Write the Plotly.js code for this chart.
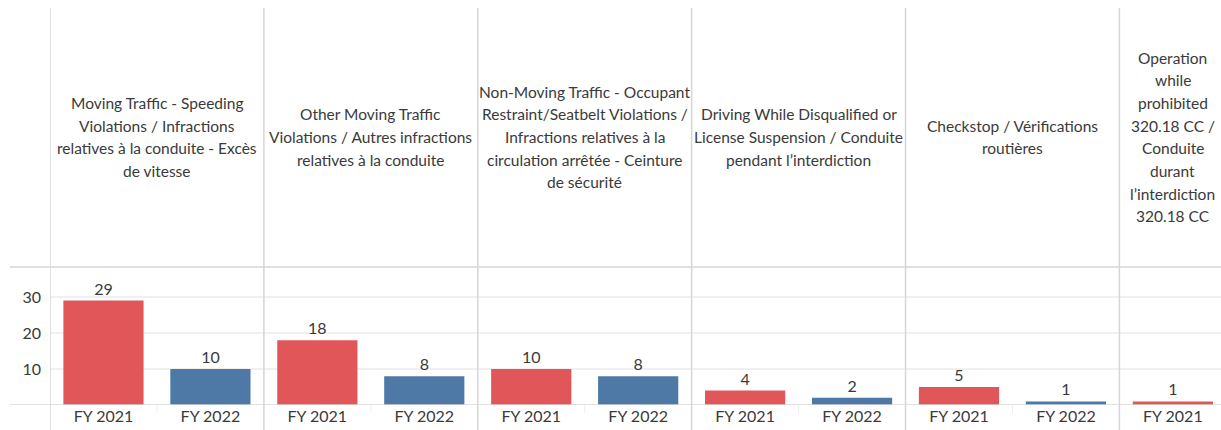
<!DOCTYPE html>
<html>
<head>
<meta charset="utf-8">
<script src="https://cdn.plot.ly/plotly-3.0.1.min.js"></script>
<style>html,body{margin:0;padding:0;background:#fff;}#chart{width:1221px;height:430px;}</style>
</head>
<body>
<div id="chart"></div>
<script>
// ---- data ----
const categories = [
  "Moving Traffic - Speeding<br>Violations / Infractions<br>relatives à la conduite - Excès<br>de vitesse",
  "Other Moving Traffic<br>Violations / Autres infractions<br>relatives à la conduite",
  "Non-Moving Traffic - Occupant<br>Restraint/Seatbelt Violations /<br>Infractions relatives à la<br>circulation arrêtée - Ceinture<br>de sécurité",
  "Driving While Disqualified or<br>License Suspension / Conduite<br>pendant l’interdiction",
  "Checkstop / Vérifications<br>routières",
  "Operation<br>while<br>prohibited<br>320.18 CC /<br>Conduite<br>durant<br>l’interdiction<br>320.18 CC"
];
const years = ["FY 2021", "FY 2022"];
const fy2021 = [29, 18, 10, 4, 5, 1];
const fy2022 = [10, 8, 8, 2, 1, null];
const yTicks = [10, 20, 30];

// ---- styling / layout constants ----
const W = 1221, H = 430;
const mL = 50, mR = 0, mT = 267, mB = 25;
const plotH = H - mT - mB;
const colors = {"FY 2021": "#E15759", "FY 2022": "#4E79A7"};
const FONT = "Lato, 'Open Sans', sans-serif";
const TXT = "#3a3a3a";
const lineCol = "#d6d6d6";

// build slots
const slotKeys = [], slotText = [], panelSlots = [];
categories.forEach((c, i) => {
  const vals = [fy2021[i], fy2022[i]];
  const idx = [];
  years.forEach((y, j) => {
    if (vals[j] !== null && vals[j] !== undefined) {
      idx.push(slotKeys.length);
      slotKeys.push(i + "|" + y);
      slotText.push(y);
    }
  });
  panelSlots.push(idx);
});

const series = {"FY 2021": fy2021, "FY 2022": fy2022};
const traces = years.map(y => {
  const xs = [], vs = [];
  categories.forEach((c, i) => {
    const v = series[y][i];
    if (v !== null && v !== undefined) { xs.push(i + "|" + y); vs.push(v); }
  });
  return {
    type: "bar", x: xs, y: vs, name: y,
    marker: {color: colors[y], line: {width: 0}},
    text: vs.map(String), textposition: "outside",
    textfont: {family: FONT, size: 16, color: TXT},
    cliponaxis: false, hoverinfo: "x+y", showlegend: false
  };
});

const slotW = (W - mL - mR) / 10.95;
const nSlots = (W - mL - mR) / slotW;
const pyFromPage = py => 1 + (mT - py) / plotH;   // page px -> paper y
const pxFromPage = px => (px - mL) / (W - mL - mR);

const shapes = [];
// panel separators (vertical)
let bIdx = -0.5;
shapes.push({type: "line", xref: "x", yref: "paper", x0: -0.5, x1: -0.5, y0: pyFromPage(8), y1: pyFromPage(H), line: {color: lineCol, width: 1.5}});
panelSlots.forEach(ps => {
  bIdx += ps.length;
  if (ps.length === 2) {
    shapes.push({type: "line", xref: "x", yref: "paper", x0: bIdx, x1: bIdx, y0: pyFromPage(8), y1: pyFromPage(H), line: {color: lineCol, width: 1.5}});
    // faint divider between years under baseline
    shapes.push({type: "line", xref: "x", yref: "paper", x0: ps[0] + 0.5, x1: ps[0] + 0.5, y0: pyFromPage(H - mB), y1: pyFromPage(H - mB + 8), line: {color: "#eeeeee", width: 1}});
  }
});
// horizontal lines: header/plot divider and baseline
shapes.push({type: "line", xref: "paper", yref: "paper", x0: pxFromPage(10), x1: 1, y0: 1, y1: 1, line: {color: lineCol, width: 1.5}});
shapes.push({type: "line", xref: "paper", yref: "y", x0: pxFromPage(10), x1: 1, y0: 0, y1: 0, line: {color: lineCol, width: 1.5}});

// header annotations, one per line
const annotations = [];
const headerCenter = 137, lineH = 22.7;
categories.forEach((c, i) => {
  const lines = c.split("<br>");
  const ps = panelSlots[i];
  const xc = ps.reduce((a, b) => a + b, 0) / ps.length;
  lines.forEach((ln, k) => {
    const py = headerCenter + (k - (lines.length - 1) / 2) * lineH;
    annotations.push({
      xref: "x", yref: "paper", x: xc, y: pyFromPage(py),
      text: ln, showarrow: false, xanchor: "center", yanchor: "middle",
      font: {family: FONT, size: 15.5, color: TXT}
    });
  });
});

const layout = {
  width: W, height: H,
  margin: {l: mL, r: mR, t: mT, b: mB, pad: 0},
  paper_bgcolor: "#fff", plot_bgcolor: "#fff",
  barmode: "overlay", bargap: 0.25,
  font: {family: FONT, color: TXT},
  xaxis: {
    type: "category", categoryorder: "array", categoryarray: slotKeys,
    tickvals: slotKeys, ticktext: slotText,
    range: [-0.5, nSlots - 0.5],
    showgrid: false, zeroline: false, showline: false, ticks: "",
    tickfont: {family: FONT, size: 16, color: TXT}
  },
  yaxis: {
    range: [0, 38.3], tickvals: yTicks, ticktext: yTicks.map(String),
    showgrid: true, gridcolor: "#f0f0f0", gridwidth: 1.5,
    zeroline: false, showline: false, ticks: "", ticklabelstandoff: 8,
    tickfont: {family: FONT, size: 16, color: TXT}
  },
  shapes: shapes,
  annotations: annotations
};

Plotly.newPlot("chart", traces, layout, {displayModeBar: false, staticPlot: true});
</script>
</body>
</html>
